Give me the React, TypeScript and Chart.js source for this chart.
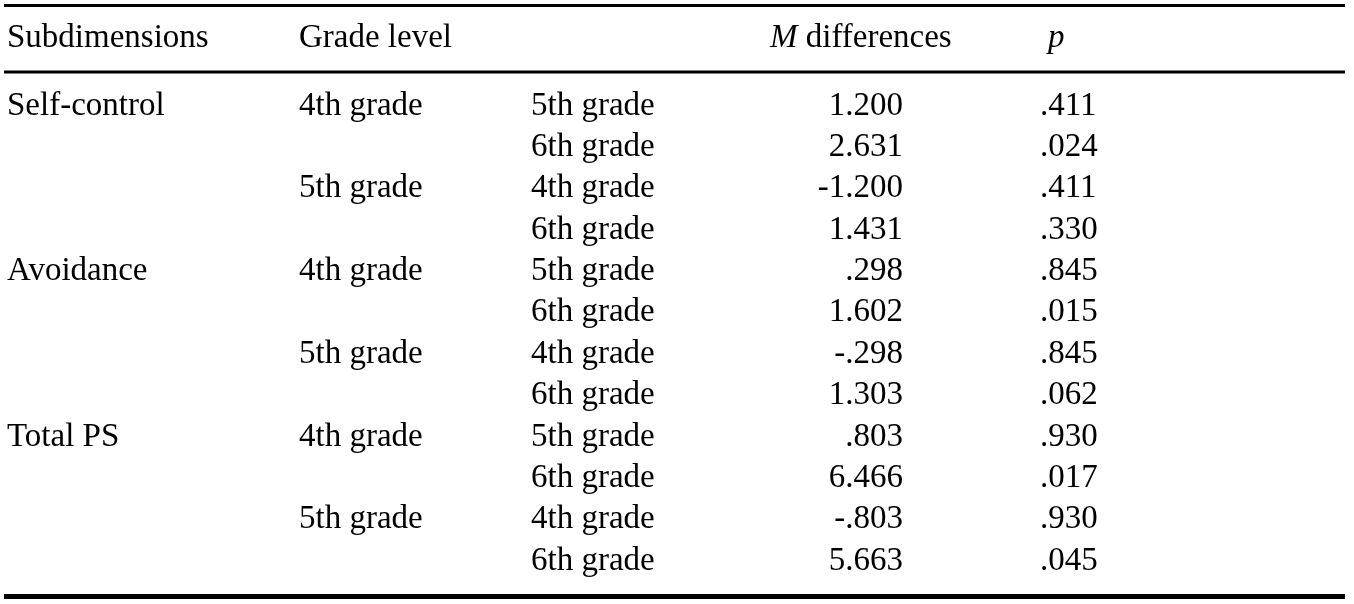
import React, { useEffect, useRef } from "react";
import { Chart, registerables } from "chart.js";

Chart.register(...registerables);

const headers = ["Subdimensions", "Grade level", "", "M differences", "p"];
const subdimensionCol = ["Self-control", "", "", "", "Avoidance", "", "", "", "Total PS", "", "", ""];
const gradeCol = ["4th grade", "", "5th grade", "", "4th grade", "", "5th grade", "", "4th grade", "", "5th grade", ""];
const compareCol = ["5th grade", "6th grade", "4th grade", "6th grade", "5th grade", "6th grade", "4th grade", "6th grade", "5th grade", "6th grade", "4th grade", "6th grade"];
const meanDiffs = ["1.200", "2.631", "-1.200", "1.431", ".298", "1.602", "-.298", "1.303", ".803", "6.466", "-.803", "5.663"];
const pValues = [".411", ".024", ".411", ".330", ".845", ".015", ".845", ".062", ".930", ".017", ".930", ".045"];

const W = 1354;
const H = 604;
const FONT = '"Liberation Serif", "Times New Roman", serif';
const FS = 33;

export default function App() {
  const ref = useRef<HTMLCanvasElement | null>(null);

  useEffect(() => {
    if (!ref.current) return;
    const tablePlugin = {
      id: "tablePlugin",
      afterDraw(chart: any) {
        const ctx = chart.ctx as CanvasRenderingContext2D;
        const xs = chart.scales.x;
        const ys = chart.scales.y;
        const px = (v: number) => xs.getPixelForValue(v);
        const py = (v: number) => ys.getPixelForValue(v);
        ctx.save();
        ctx.fillStyle = "#000";
        ctx.strokeStyle = "#000";
        // rules
        const rule = (y: number, w: number) => {
          ctx.lineWidth = w;
          ctx.beginPath();
          ctx.moveTo(px(4), py(y));
          ctx.lineTo(px(1345), py(y));
          ctx.stroke();
        };
        rule(5.5, 3);
        rule(72, 3);
        rule(596.5, 5);

        ctx.textBaseline = "alphabetic";
        const normal = `${FS}px ${FONT}`;
        const italic = `italic ${FS}px ${FONT}`;
        // header
        const hb = py(47);
        ctx.font = normal;
        ctx.textAlign = "left";
        ctx.fillText(headers[0], px(7), hb);
        ctx.fillText(headers[1], px(299), hb);
        // M differences
        ctx.font = italic;
        const mW = ctx.measureText("M").width;
        ctx.fillText("M", px(770), hb);
        ctx.font = normal;
        ctx.fillText(headers[3].slice(1), px(770) + mW, hb);
        ctx.font = italic;
        ctx.fillText(headers[4], px(1048), hb);

        ctx.font = normal;
        for (let i = 0; i < meanDiffs.length; i++) {
          const b = py(114.5 + i * 41.38);
          ctx.textAlign = "left";
          if (subdimensionCol[i]) ctx.fillText(subdimensionCol[i], px(7), b);
          if (gradeCol[i]) ctx.fillText(gradeCol[i], px(299), b);
          ctx.fillText(compareCol[i], px(531), b);
          ctx.textAlign = "right";
          ctx.fillText(meanDiffs[i], px(903), b);
          ctx.textAlign = "left";
          ctx.fillText(pValues[i], px(1040), b);
        }
        ctx.restore();
      },
    };

    const chart = new Chart(ref.current, {
      type: "scatter",
      data: { labels: compareCol, datasets: [{ data: [], pointRadius: 0 }] },
      options: {
        animation: false,
        responsive: false,
        devicePixelRatio: 1,
        layout: { padding: 0 },
        plugins: { legend: { display: false }, tooltip: { enabled: false } },
        scales: {
          x: { type: "linear", min: 0, max: W, display: false },
          y: { type: "linear", min: 0, max: H, reverse: true, display: false },
        },
      },
      plugins: [tablePlugin],
    });
    return () => chart.destroy();
  }, []);

  return (
    <div style={{ position: "fixed", left: 0, top: 0, width: W, height: H, background: "#fff" }}>
      <canvas ref={ref} width={W} height={H} style={{ width: W, height: H }} />
    </div>
  );
}
